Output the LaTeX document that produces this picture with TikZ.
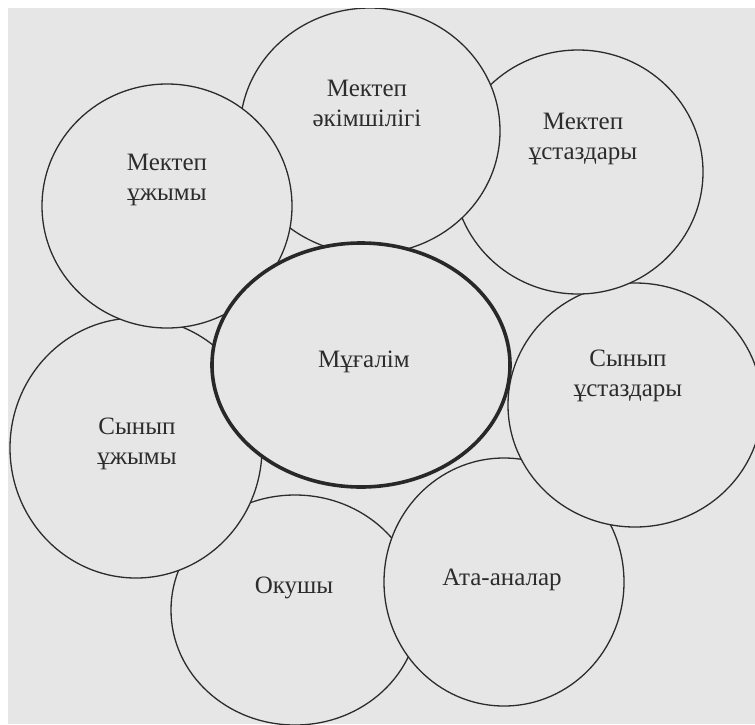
\documentclass[tikz,border=0pt]{standalone}
\usepackage{fontspec}
\setmainfont{Liberation Serif}
\usetikzlibrary{shapes.geometric}
\definecolor{paper}{HTML}{E6E6E6}
\definecolor{ink}{HTML}{2C2C2C}
\begin{document}
\begin{tikzpicture}[x=1pt,y=-1pt,
  ring/.style={ellipse, draw=ink, fill=paper, line width=1.3pt, inner sep=0pt, outer sep=0pt},
  centre/.style={ring, line width=3.6pt, draw=ink!90!black},
  lbl/.style={font=\fontsize{25}{30}\selectfont, text=ink, align=center, inner sep=0pt}]
\useasboundingbox (0,0) rectangle (755,724);
\fill[white] (0,0) rectangle (755,724);
\clip (8,8) rectangle (755,724);
\fill[paper] (8,8) rectangle (755,724);
% back to front
\node[ring, minimum width=248pt, minimum height=230pt] (okushy) at (295,610) {};
\node[ring, minimum width=240pt, minimum height=248pt] (ata) at (504,582) {};
\node[ring, minimum width=254pt, minimum height=244pt] (synust) at (635,405) {};
\node[ring, minimum width=250pt, minimum height=244pt] (mektust) at (578,172) {};
\node[ring, minimum width=260pt, minimum height=246pt] (akim) at (370,131) {};
\node[ring, minimum width=252pt, minimum height=260pt] (synuzh) at (136,448) {};
\node[ring, minimum width=250pt, minimum height=244pt] (mektuzh) at (167,206) {};
\node[centre, minimum width=298pt, minimum height=244pt] (mugalim) at (361,365) {};
% labels
\node[lbl] (t-mektuzh) at (167,180) {Мектеп\\ұжымы};
\node[lbl] (t-akim) at (367,103) {Мектеп\\әкімшілігі};
\node[lbl] (t-mektust) at (583,139) {Мектеп\\ұстаздары};
\node[lbl] (t-mugalim) at (364,362) {Мұғалім};
\node[lbl] (t-synust) at (628,376) {Сынып\\ұстаздары};
\node[lbl] (t-synuzh) at (137,444) {Сынып\\ұжымы};
\node[lbl] (t-okushy) at (294,588) {Окушы};
\node[lbl] (t-ata) at (502,580) {Ата-аналар};
\end{tikzpicture}
\end{document}
